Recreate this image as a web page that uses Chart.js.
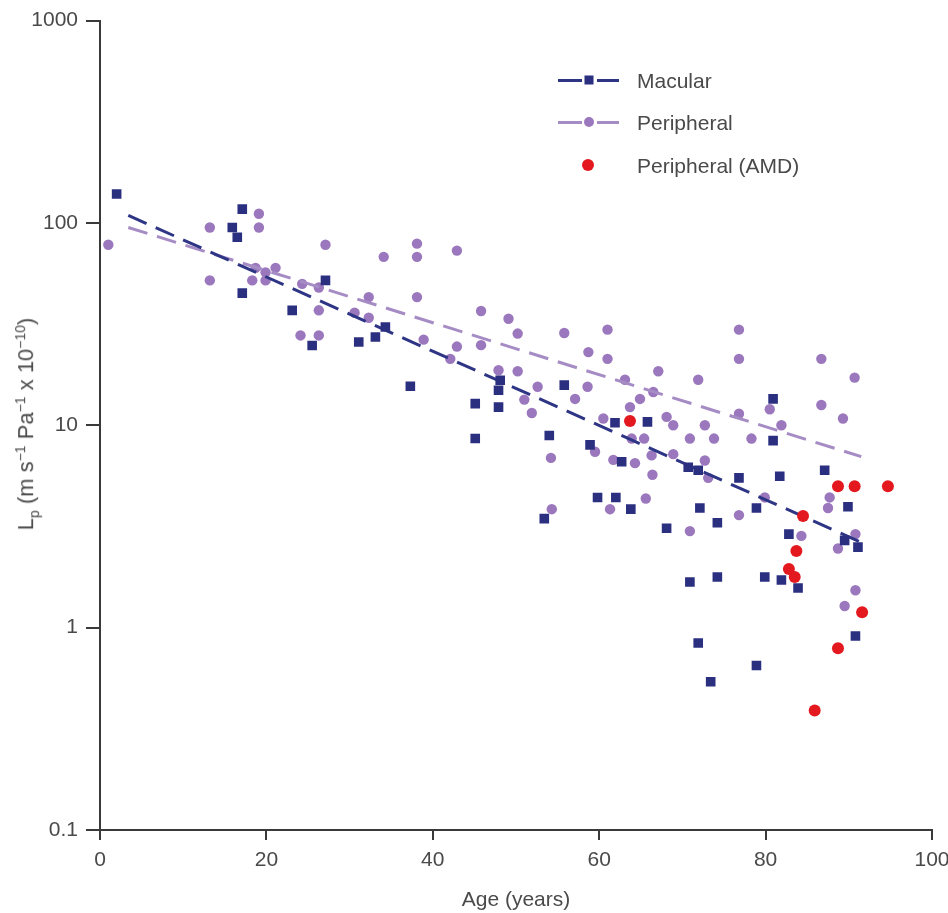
<!DOCTYPE html>
<html>
<head>
<meta charset="utf-8">
<script src="https://cdn.jsdelivr.net/npm/chart.js@4.4.1/dist/chart.umd.min.js"></script>
<style>
    html, body { margin: 0; padding: 0; background: #fff; }
    #wrap { position: relative; width: 948px; height: 913px; font-family: "Liberation Sans", Arial, sans-serif; color: #4a4a4a; }
    #chart { position: absolute; left: 0; top: 0; }
    .ytitle { position: absolute; left: 27px; top: 424px; transform: translate(-50%, -50%) rotate(-90deg); white-space: nowrap; font-size: 22px; }
    .ytitle sup, .ytitle sub { font-size: 14px; }
    .lg-row { position: absolute; left: 0; height: 0; }
    .lg-seg { position: absolute; height: 3px; margin-top: -1.5px; }
    .lg-mark { position: absolute; transform: translate(-50%, -50%); }
    .lg-text { position: absolute; left: 637px; transform: translateY(-50%); font-size: 21px; line-height: 1; white-space: nowrap; }
</style>
</head>
<body>
<div id="wrap">
    <canvas id="chart" width="948" height="913"></canvas>

    <div class="ytitle">L<sub>p</sub> (m s<sup>−1</sup> Pa<sup>−1</sup> x 10<sup>−10</sup>)</div>

    <!-- Legend -->
    <div class="lg-row" style="top:80px">
        <span class="lg-seg" style="left:558px;width:24px;background:#2e3585"></span>
        <span class="lg-seg" style="left:597px;width:22px;background:#2e3585"></span>
        <span class="lg-mark" style="left:589px;width:9px;height:9px;background:#2b2f80"></span>
        <span class="lg-text">Macular</span>
    </div>
    <div class="lg-row" style="top:122px">
        <span class="lg-seg" style="left:558px;width:24px;background:#a68cc4"></span>
        <span class="lg-seg" style="left:597px;width:22px;background:#a68cc4"></span>
        <span class="lg-mark" style="left:589px;width:10px;height:10px;border-radius:50%;background:#9b78bd"></span>
        <span class="lg-text">Peripheral</span>
    </div>
    <div class="lg-row" style="top:165px">
        <span class="lg-mark" style="left:588px;width:12px;height:12px;border-radius:50%;background:#e3191f"></span>
        <span class="lg-text">Peripheral (AMD)</span>
    </div>
</div>

<script>
// Macular (squares)
const macularAge = [2.0, 17.1, 15.9, 16.5, 17.1, 27.1, 23.1, 25.5, 31.1, 34.3, 33.1, 37.3, 48.1, 47.9, 45.1, 47.9,
    55.8, 61.9, 45.1, 54.0, 65.8, 80.9, 80.9, 87.1, 81.7, 76.8, 70.7, 71.9, 72.1, 78.9, 89.9, 68.1, 74.2, 82.8,
    89.5, 91.1, 70.9, 74.2, 79.9, 81.9, 83.9, 90.8, 71.9, 78.9, 73.4, 58.9, 62.7, 59.8, 62.0, 63.8, 53.4];
const macularLp = [139, 117, 95, 85, 45, 52, 37, 24.8, 25.8, 30.6, 27.3, 15.6, 16.7, 14.9, 12.8, 12.3,
    15.8, 10.3, 8.6, 8.9, 10.4, 13.5, 8.4, 6.0, 5.6, 5.5, 6.2, 6.0, 3.9, 3.9, 3.96, 3.1, 3.3, 2.9,
    2.7, 2.5, 1.68, 1.78, 1.78, 1.72, 1.57, 0.91, 0.84, 0.65, 0.54, 8.0, 6.6, 4.4, 4.4, 3.85, 3.46];

// Peripheral (circles)
const peripheralAge = [1.0, 13.2, 13.2, 19.1, 19.1, 27.1, 18.7, 19.9, 21.1, 18.3, 19.9, 24.3, 26.3, 26.3, 24.1, 26.3,
    30.6, 34.1, 38.1, 38.1, 42.9, 38.1, 32.3, 32.3, 45.8, 49.1, 50.2, 55.8, 61.0, 58.7, 61.0, 63.1,
    38.9, 42.9, 42.1, 45.8, 47.9, 50.2, 52.6, 58.6, 51.0, 57.1, 51.9, 60.5, 63.7, 76.8, 76.8, 86.7,
    90.7, 67.1, 71.9, 66.5, 64.9, 86.7, 89.3, 76.8, 80.5, 68.1, 68.9, 72.7, 81.9, 54.2, 59.5, 61.7,
    64.3, 54.3, 61.3, 65.4, 70.9, 73.8, 78.3, 66.3, 68.9, 72.7, 66.4, 73.1, 65.6, 76.8, 70.9, 79.9,
    87.7, 87.5, 84.3, 90.8, 88.7, 90.8, 89.5, 63.9];
const peripheralLp = [78, 95, 52, 111, 95, 78, 60, 57, 60, 52, 52, 50, 48, 37, 27.8, 27.8,
    36, 68, 79, 68, 73, 43, 43, 34, 36.7, 33.6, 28.4, 28.6, 29.7, 23, 21.3, 16.8,
    26.5, 24.5, 21.3, 24.9, 18.7, 18.5, 15.5, 15.5, 13.4, 13.5, 11.5, 10.8, 12.3, 29.7, 21.3, 21.3,
    17.2, 18.5, 16.8, 14.6, 13.5, 12.6, 10.8, 11.4, 12.0, 11.0, 10.0, 10.0, 10.0, 6.9, 7.4, 6.75,
    6.5, 3.85, 3.85, 8.6, 8.6, 8.6, 8.6, 7.1, 7.2, 6.7, 5.7, 5.5, 4.35, 3.6, 3.0, 4.4,
    4.4, 3.9, 2.84, 2.9, 2.46, 1.53, 1.28, 8.6];

// Peripheral (AMD) (red)
const amdAge = [63.7, 88.7, 90.7, 94.7, 84.5, 83.7, 82.8, 83.5, 91.6, 88.7, 85.9];
const amdLp = [10.5, 5.0, 5.0, 5.0, 3.56, 2.39, 1.95, 1.78, 1.19, 0.79, 0.39];

// Regression lines (end points)
const macularTrendAge = [3.4, 92.3];
const macularTrendLp = [109, 2.55];
const peripheralTrendAge = [3.4, 91.5];
const peripheralTrendLp = [95, 7.0];

// Axes
const xTicks = [0, 20, 40, 60, 80, 100];
const yTickValues = [0.1, 1, 10, 100, 1000];
const yTickLabels = ['0.1', '1', '10', '100', '1000'];

const toPoints = (xs, ys) => xs.map((x, i) => ({ x: x, y: ys[i] }));

const FONT = '"Liberation Sans", Arial, sans-serif';
const AXIS = '#3a3a3a';
const TEXT = '#4a4a4a';

new Chart(document.getElementById('chart'), {
    type: 'scatter',
    data: {
        datasets: [
            {
                label: 'Peripheral (AMD)',
                data: toPoints(amdAge, amdLp),
                backgroundColor: '#e3191f',
                borderWidth: 0,
                pointStyle: 'circle',
                pointRadius: 6,
                order: 0
            },
            {
                label: 'Macular',
                data: toPoints(macularAge, macularLp),
                backgroundColor: '#2b2f80',
                borderWidth: 0,
                pointStyle: 'rect',
                pointRadius: 6.8,
                order: 1
            },
            {
                type: 'line',
                label: 'Macular fit',
                data: toPoints(macularTrendAge, macularTrendLp),
                borderColor: '#2e3585',
                borderWidth: 3,
                borderDash: [20, 10],
                pointRadius: 0,
                fill: false,
                order: 2
            },
            {
                type: 'line',
                label: 'Peripheral fit',
                data: toPoints(peripheralTrendAge, peripheralTrendLp),
                borderColor: '#a68cc4',
                borderWidth: 3,
                borderDash: [20, 10],
                pointRadius: 0,
                fill: false,
                order: 2
            },
            {
                label: 'Peripheral',
                data: toPoints(peripheralAge, peripheralLp),
                backgroundColor: '#9b78bd',
                borderWidth: 0,
                pointStyle: 'circle',
                pointRadius: 5.2,
                order: 3
            }
        ]
    },
    options: {
        responsive: false,
        animation: false,
        layout: { padding: { top: 20, right: 16, left: 0, bottom: 0 } },
        plugins: { legend: { display: false }, tooltip: { enabled: false } },
        scales: {
            x: {
                type: 'linear',
                min: 0,
                max: 100,
                afterBuildTicks: scale => { scale.ticks = xTicks.map(v => ({ value: v })); },
                afterFit: scale => {
                    scale.height = 83;
                    // let the "100" label run to the edge, as in the figure
                    scale.paddingLeft = 0;
                    scale.paddingRight = 0;
                },
                ticks: { color: TEXT, font: { family: FONT, size: 21 }, padding: 8, maxRotation: 0 },
                grid: { drawOnChartArea: false, drawTicks: true, tickLength: 10, color: AXIS, lineWidth: 2 },
                border: { color: AXIS, width: 2 },
                title: { display: true, text: 'Age (years)', color: TEXT, font: { family: FONT, size: 21 }, padding: { top: 4, bottom: 0 } }
            },
            y: {
                type: 'logarithmic',
                min: 0.1,
                max: 1000,
                afterBuildTicks: scale => { scale.ticks = yTickValues.map(v => ({ value: v })); },
                afterFit: scale => { scale.width = 100; },
                ticks: {
                    color: TEXT,
                    font: { family: FONT, size: 21 },
                    padding: 8,
                    callback: v => yTickLabels[yTickValues.indexOf(v)]
                },
                grid: { drawOnChartArea: false, drawTicks: true, tickLength: 14, color: AXIS, lineWidth: 2 },
                border: { color: AXIS, width: 2 }
            }
        }
    }
});
</script>
</body>
</html>
